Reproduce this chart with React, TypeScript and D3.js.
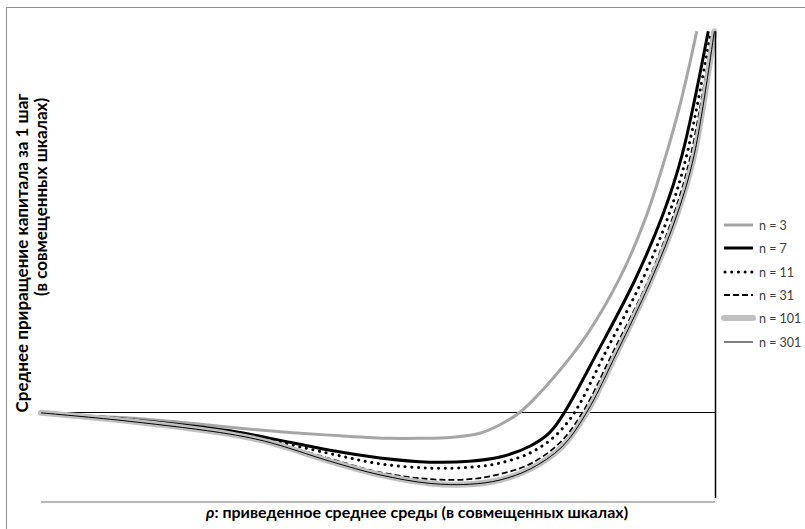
import React from "react";
import * as d3 from "d3";

// rho (0..100 in the chart's combined scale) and mean gain per step
const rho3 = [0, 7.3, 13.2, 20.6, 28.0, 36.9, 44.4, 51.8, 56.2, 60.7, 65.1, 68.1, 71.1, 76.0, 81.0, 85.9, 89.6, 92.3, 94.8, 97.3];
const gain3 = [-0.01, -0.05, -0.07, -0.12, -0.18, -0.24, -0.28, -0.31, -0.31, -0.30, -0.25, -0.15, 0, 0.40, 0.91, 1.58, 2.26, 2.91, 3.61, 4.48];

const rho7 = [0, 13.2, 28.0, 34.0, 42.9, 50.3, 57.7, 63.6, 68.1, 72.6, 75.5, 77.7, 82.6, 88.1, 92.3, 95.1, 99.0];
const gain7 = [-0.01, -0.09, -0.22, -0.31, -0.45, -0.54, -0.59, -0.58, -0.53, -0.40, -0.24, 0, 0.71, 1.55, 2.33, 3.02, 4.48];

const rho11 = [0, 13.2, 28.0, 34.0, 42.9, 50.3, 57.7, 63.6, 68.1, 72.6, 76.3, 79.2, 83.8, 89.2, 93.2, 95.8, 99.4];
const gain11 = [-0.01, -0.09, -0.24, -0.33, -0.49, -0.61, -0.66, -0.65, -0.60, -0.48, -0.28, 0, 0.71, 1.55, 2.33, 3.02, 4.48];

const rho31 = [0, 13.2, 28.0, 34.0, 42.9, 50.3, 57.7, 63.6, 68.1, 72.6, 77.0, 80.4, 84.9, 90.1, 93.9, 96.4, 99.7];
const gain31 = [-0.01, -0.11, -0.25, -0.35, -0.55, -0.71, -0.79, -0.79, -0.73, -0.61, -0.36, 0, 0.71, 1.55, 2.33, 3.02, 4.48];

const rho101 = [0, 13.2, 28.0, 34.0, 42.9, 50.3, 57.7, 63.6, 68.1, 72.6, 77.3, 81.0, 85.5, 90.5, 94.4, 96.9, 99.9];
const gain101 = [-0.01, -0.11, -0.26, -0.36, -0.58, -0.74, -0.84, -0.85, -0.80, -0.67, -0.41, 0, 0.71, 1.55, 2.33, 3.02, 4.48];

const rho301 = [0, 13.2, 28.0, 34.0, 42.9, 50.3, 57.7, 63.6, 68.1, 72.6, 77.3, 81.0, 85.5, 90.5, 94.4, 96.9, 99.9];
const gain301 = [-0.01, -0.11, -0.26, -0.36, -0.58, -0.74, -0.84, -0.85, -0.80, -0.67, -0.41, 0, 0.71, 1.55, 2.33, 3.02, 4.48];

const seriesNames = ["n = 3", "n = 7", "n = 11", "n = 31", "n = 101", "n = 301"];

const xTitle = ": приведенное среднее среды (в совмещенных шкалах)";
const yTitle1 = "Среднее приращение капитала за 1 шаг";
const yTitle2 = "(в совмещенных шкалах)";

type Style = { stroke: string; width: number; dash?: string; cap?: "round" | "butt" };
const styles: Style[] = [
  { stroke: "#a6a6a6", width: 3 },
  { stroke: "#000000", width: 3 },
  { stroke: "#000000", width: 3, dash: "0.1 6.6", cap: "round" },
  { stroke: "#000000", width: 1.8, dash: "6 3" },
  { stroke: "#c0c0c0", width: 6, cap: "round" },
  { stroke: "#000000", width: 1 },
];

export default function App() {
  const W = 805, H = 529;
  const x = d3.scaleLinear().domain([0, 100]).range([41, 715]);
  const y = d3.scaleLinear().domain([-1, 4.5]).range([497, 29.5]);

  const data = [
    [rho3, gain3],
    [rho7, gain7],
    [rho11, gain11],
    [rho31, gain31],
    [rho101, gain101],
    [rho301, gain301],
  ].map(([rs, gs]) => rs.map((r, i) => [r, gs[i]] as [number, number]));

  const line = d3
    .line<[number, number]>()
    .x((d) => x(d[0]))
    .y((d) => y(d[1]))
    .curve(d3.curveCatmullRom.alpha(0.5));

  const legendY = [225, 248, 272, 295, 318, 342];
  const font = "Lato, Carlito, 'Open Sans', sans-serif";
  const y0 = Math.round(y(0)) + 0.5;
  const xr = Math.round(x(100)) + 0.5;

  return (
    <svg width={W} height={H} style={{ position: "absolute", left: 0, top: 0, background: "#fff" }}>
      {/* outer frame (clipped) */}
      <line x1={6.5} y1={7} x2={6.5} y2={H} stroke="#8f8f8f" strokeWidth={1} />
      <line x1={6} y1={7.5} x2={W} y2={7.5} stroke="#8f8f8f" strokeWidth={1} />

      {/* bottom axis */}
      <line x1={x(0)} y1={502} x2={x(100)} y2={502} stroke="#a0a0a0" strokeWidth={1.5} />
      {/* zero line */}
      <line x1={x(0)} y1={y0} x2={x(100)} y2={y0} stroke="#000" strokeWidth={1} />

      {data.map((pts, i) => (
        <path
          key={i}
          d={line(pts) || ""}
          fill="none"
          stroke={styles[i].stroke}
          strokeWidth={styles[i].width}
          strokeDasharray={styles[i].dash}
          strokeLinecap={styles[i].cap || "butt"}
          strokeLinejoin="round"
        />
      ))}

      {/* value axis on the right */}
      <line x1={xr} y1={y(4.48)} x2={xr} y2={498} stroke="#000" strokeWidth={1.5} />

      {/* legend */}
      {seriesNames.map((name, i) => (
        <g key={name}>
          <line
            x1={i === 2 ? 725 : 724}
            x2={i === 2 ? 752 : 753}
            y1={legendY[i]}
            y2={legendY[i]}
            stroke={styles[i].stroke}
            strokeWidth={styles[i].width}
            strokeDasharray={styles[i].dash}
            strokeLinecap={styles[i].cap || "butt"}
          />
          <text x={759} y={legendY[i] + 4.5} fontFamily={font} fontSize={12.5} fill="#404040">
            {name}
          </text>
        </g>
      ))}

      {/* axis titles */}
      <text x={417} y={518} textAnchor="middle" fontFamily={font} fontWeight="bold" fontSize={16} fill="#000">
        <tspan fontStyle="italic">ρ</tspan>
        {xTitle}
      </text>
      <text
        transform="translate(28,253) rotate(-90)"
        textAnchor="middle"
        fontFamily={font}
        fontWeight="bold"
        fontSize={17}
        fill="#000"
      >
        {yTitle1}
      </text>
      <text
        transform="translate(47,197) rotate(-90)"
        textAnchor="middle"
        fontFamily={font}
        fontWeight="bold"
        fontSize={17}
        fill="#000"
      >
        {yTitle2}
      </text>
    </svg>
  );
}
